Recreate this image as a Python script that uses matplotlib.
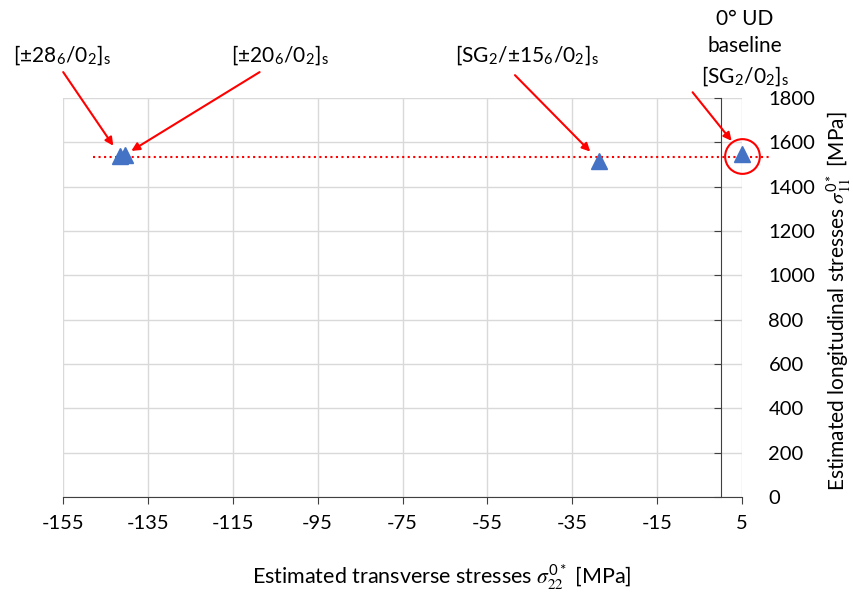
import matplotlib
matplotlib.use("Agg")
import matplotlib.pyplot as plt

plt.rcParams['font.family'] = ['Lato', 'DejaVu Sans']
plt.rcParams['mathtext.fontset'] = 'stix'
plt.rcParams['axes.unicode_minus'] = False

# data
x_stress = [-141.5, -140.3, -28.7, 5.0]      # transverse stress [MPa]
y_stress = [1538, 1545, 1518, 1548]          # longitudinal stress [MPa]
baseline_x = [-148, 11.5]
baseline_y = 1535
circle_x = [5.0]
circle_y = [1540]

labels = [r"[±28$_{\mathregular{6}}$/0$_{\mathregular{2}}$]$_{\mathregular{s}}$",
          r"[±20$_{\mathregular{6}}$/0$_{\mathregular{2}}$]$_{\mathregular{s}}$",
          r"[SG$_{\mathregular{2}}$/±15$_{\mathregular{6}}$/0$_{\mathregular{2}}$]$_{\mathregular{s}}$",
          "0° UD\nbaseline\n" + r"[SG$_{\mathregular{2}}$/0$_{\mathregular{2}}$]$_{\mathregular{s}}$"]
# text centres and arrow tails in figure fraction
label_pos = [(0.073, 0.91), (0.328, 0.91), (0.617, 0.91), (0.872, 0.921)]
arrow_tail = [(0.074, 0.882), (0.304, 0.882), (0.603, 0.877), (0.811, 0.849)]
arrow_shrink = [9, 5, 9, 12]

xticks = list(range(-155, 6, 20))
yticks = list(range(0, 1801, 200))

fig = plt.figure(figsize=(8.54, 6.11), dpi=100)
ax = fig.add_axes([0.0738, 0.1866, 0.7951, 0.653])

ax.set_xlim(-155, 5)
ax.set_ylim(0, 1800)
ax.set_xticks(xticks)
ax.set_yticks(yticks)
ax.grid(True, color='#d9d9d9', linewidth=1)
ax.set_axisbelow(True)

for s in ['top', 'right']:
    ax.spines[s].set_visible(False)
ax.spines['left'].set_position(('data', 0))
ax.spines['bottom'].set_position(('data', 0))
ax.spines['left'].set_color('#404040')
ax.spines['bottom'].set_color('#404040')

ax.tick_params(axis='x', direction='out', length=5, color='#404040',
               labelsize=14.5, pad=8)
ax.tick_params(axis='y', left=True, right=False, labelleft=False,
               labelright=True, direction='out', length=5, color='#404040',
               labelsize=14.5, pad=14)

ax.plot(baseline_x, [baseline_y, baseline_y], color='red', linestyle=':',
        linewidth=1.5, clip_on=False, zorder=2)
ax.plot(x_stress, y_stress, linestyle='none', marker='^', markersize=11,
        color='#4472C4', clip_on=False, zorder=3)
ax.plot(circle_x, circle_y, linestyle='none', marker='o', markersize=25,
        markerfacecolor='none', markeredgecolor='red', markeredgewidth=1.5,
        clip_on=False, zorder=4)

for i, lab in enumerate(labels):
    fig.text(label_pos[i][0], label_pos[i][1], lab, ha='center', va='center',
             fontsize=15, linespacing=1.45)
    ax.annotate('', xy=(x_stress[i], y_stress[i]), xytext=arrow_tail[i],
                textcoords='figure fraction',
                arrowprops=dict(arrowstyle='-|>', color='red', lw=1.5,
                                shrinkA=0, shrinkB=arrow_shrink[i],
                                mutation_scale=12))

ax.set_xlabel(r"Estimated transverse stresses $\sigma_{22}^{\mathregular{0*}}$ [MPa]",
              fontsize=15.5)
ax.xaxis.set_label_coords(0.557, -0.165)
ax.set_ylabel(r"Estimated longitudinal stresses $\sigma_{11}^{\mathregular{0*}}$ [MPa]",
              fontsize=15, rotation=90, ha='center', va='center')
ax.yaxis.set_label_coords(1.142, 0.49)

fig.savefig('out.png', dpi=100)
